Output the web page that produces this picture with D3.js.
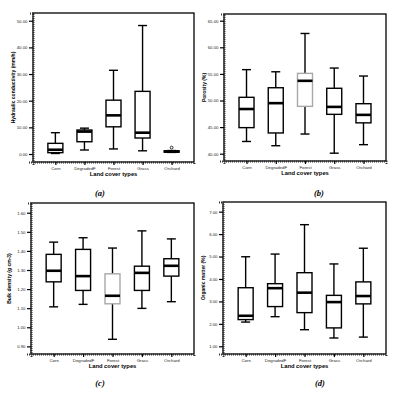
<!DOCTYPE html>
<html>
<head>
<meta charset="utf-8">
<script src="https://cdn.jsdelivr.net/npm/d3@7"></script>
<style>
  body { margin: 0; background: #fff; }
  text { font-family: "Liberation Sans", Arial, sans-serif; }
</style>
</head>
<body>
<svg id="chart" width="402" height="394"></svg>
<script>
// land cover classes on every x axis
const categories = ["Corn", "DegradedF", "Forest", "Grass", "Orchard"];

// box stats per class: [min, q1, median, q3, max]
const hydraulic = [
  [0.2, 0.5, 1.6, 4.0, 8.0],
  [1.5, 4.6, 8.4, 9.0, 9.7],
  [1.9, 10.2, 14.5, 20.2, 31.4],
  [1.2, 6.0, 8.0, 23.5, 48.2],
  [0.6, 0.7, 0.9, 1.2, 1.3]
];
const hydraulicOutliers = [[4, 2.4]];

const porosity = [
  [42.3, 44.9, 48.4, 50.6, 55.8],
  [41.5, 43.9, 49.5, 52.4, 55.4],
  [43.7, 48.9, 53.7, 55.1, 62.6],
  [40.1, 47.4, 48.8, 52.3, 56.1],
  [41.7, 45.8, 47.3, 49.4, 54.6]
];

const bulkDensity = [
  [1.107, 1.238, 1.296, 1.382, 1.446],
  [1.12, 1.193, 1.268, 1.408, 1.469],
  [0.937, 1.123, 1.165, 1.28, 1.415],
  [1.099, 1.193, 1.285, 1.32, 1.505],
  [1.134, 1.268, 1.322, 1.359, 1.463]
];

const organic = [
  [2.08, 2.19, 2.36, 3.61, 4.99],
  [2.32, 2.77, 3.59, 3.79, 5.11],
  [1.74, 2.5, 3.39, 4.28, 6.42],
  [1.37, 1.82, 2.97, 3.27, 4.67],
  [1.41, 2.89, 3.24, 3.87, 5.37]
];

// tick values
const ticksA = [0, 10, 20, 30, 40, 50];
const ticksB = [40, 45, 50, 55, 60, 65];
const ticksC = [0.9, 1.0, 1.1, 1.2, 1.3, 1.4, 1.5, 1.6];
const ticksD = [1, 2, 3, 4, 5, 6, 7];

const svg = d3.select("#chart");
svg.append("rect").attr("width", 402).attr("height", 394).attr("fill", "#fff");

const panels = [
  { frame: [33, 194, 13, 162], domain: [-3, 52.9], ticks: ticksA, data: hydraulic,
    outliers: hydraulicOutliers, ytitle: "Hydraulic conductivity (mm/h)", titleX: 15,
    tag: "(a)", tagPos: [100, 196], grey: [] },
  { frame: [224, 386, 14, 161], domain: [38.63, 66.26], ticks: ticksB, data: porosity,
    outliers: [], ytitle: "Porosity (%)", titleX: 206,
    tag: "(b)", tagPos: [319, 196], grey: [2] },
  { frame: [31, 194, 203, 354], domain: [0.86, 1.651], ticks: ticksC, data: bulkDensity,
    outliers: [], ytitle: "Bulk density (g cm-3)", titleX: 11,
    tag: "(c)", tagPos: [100, 386], grey: [2] },
  { frame: [223, 386, 202, 354], domain: [0.657, 7.43], ticks: ticksD, data: organic,
    outliers: [], ytitle: "Organic matter (%)", titleX: 205,
    tag: "(d)", tagPos: [320, 386], grey: [] }
];

panels.forEach(drawPanel);

function drawPanel(p) {
  const [x0, x1, y0, y1] = p.frame;
  const g = svg.append("g");

  const x = d3.scalePoint().domain(categories).range([x0, x1]).padding(0.77);
  const y = d3.scaleLinear().domain(p.domain).range([y1, y0]);
  const boxW = 15, capW = 9;

  // frame
  g.append("rect")
    .attr("x", x0).attr("y", y0)
    .attr("width", x1 - x0).attr("height", y1 - y0)
    .attr("fill", "none").attr("stroke", "#000").attr("stroke-width", 1.3);

  // y axis
  const yAxis = d3.axisLeft(y).tickValues(p.ticks).tickFormat(d3.format(".2f"))
    .tickSize(4).tickPadding(1.5);
  const ya = g.append("g").attr("transform", `translate(${x0},0)`).call(yAxis);
  ya.select(".domain").attr("stroke", "#333").attr("stroke-width", 2).attr("stroke-dasharray", "1 1");
  ya.selectAll(".tick line").attr("stroke", "#000").attr("stroke-width", 1.2);
  ya.selectAll(".tick text").attr("font-size", 4.3).attr("fill", "#222");

  // x axis
  const xAxis = d3.axisBottom(x).tickSize(3).tickPadding(1.5);
  const xa = g.append("g").attr("transform", `translate(0,${y1})`).call(xAxis);
  xa.select(".domain").attr("stroke", "#333").attr("stroke-width", 2).attr("stroke-dasharray", "1 1");
  xa.selectAll(".tick line").attr("stroke", "#000").attr("stroke-width", 1.2);
  xa.selectAll(".tick text").attr("font-size", 4.3).attr("fill", "#222");

  // titles
  g.append("text")
    .attr("x", (x0 + x1) / 2).attr("y", y1 + 14)
    .attr("text-anchor", "middle").attr("font-size", 5.8).attr("font-weight", "bold")
    .text("Land cover types");
  g.append("text")
    .attr("transform", `translate(${p.titleX},${(y0 + y1) / 2}) rotate(-90)`)
    .attr("text-anchor", "middle").attr("font-size", 5).attr("font-weight", "bold")
    .text(p.ytitle);
  g.append("text")
    .attr("x", p.tagPos[0]).attr("y", p.tagPos[1])
    .attr("text-anchor", "middle").attr("font-size", 8.5)
    .attr("font-weight", "bold").attr("font-style", "italic")
    .style("font-family", "'Liberation Serif', serif")
    .text(p.tag);

  // boxes
  const boxes = g.selectAll(".box").data(p.data).enter().append("g")
    .attr("transform", (d, i) => `translate(${x(categories[i])},0)`);

  const col = (d, i) => p.grey.includes(i) ? "#a8a8a8" : "#000";

  boxes.append("line") // whisker
    .attr("y1", d => y(d[0])).attr("y2", d => y(d[4]))
    .attr("stroke", "#000").attr("stroke-width", 1.4);
  boxes.append("line")
    .attr("x1", -capW / 2).attr("x2", capW / 2)
    .attr("y1", d => y(d[4])).attr("y2", d => y(d[4]))
    .attr("stroke", "#000").attr("stroke-width", 1.4);
  boxes.append("line")
    .attr("x1", -capW / 2).attr("x2", capW / 2)
    .attr("y1", d => y(d[0])).attr("y2", d => y(d[0]))
    .attr("stroke", "#000").attr("stroke-width", 1.4);
  boxes.append("rect")
    .attr("x", -boxW / 2).attr("width", boxW)
    .attr("y", d => y(d[3])).attr("height", d => y(d[1]) - y(d[3]))
    .attr("fill", "#fff").attr("stroke", col).attr("stroke-width", 1.4);
  boxes.append("line") // median
    .attr("x1", -boxW / 2).attr("x2", boxW / 2)
    .attr("y1", d => y(d[2])).attr("y2", d => y(d[2]))
    .attr("stroke", "#000").attr("stroke-width", 2.6);

  // outliers
  g.selectAll(".out").data(p.outliers).enter().append("circle")
    .attr("cx", d => x(categories[d[0]])).attr("cy", d => y(d[1]))
    .attr("r", 1.4).attr("fill", "#fff").attr("stroke", "#000").attr("stroke-width", 0.8);
}
</script>
</body>
</html>
